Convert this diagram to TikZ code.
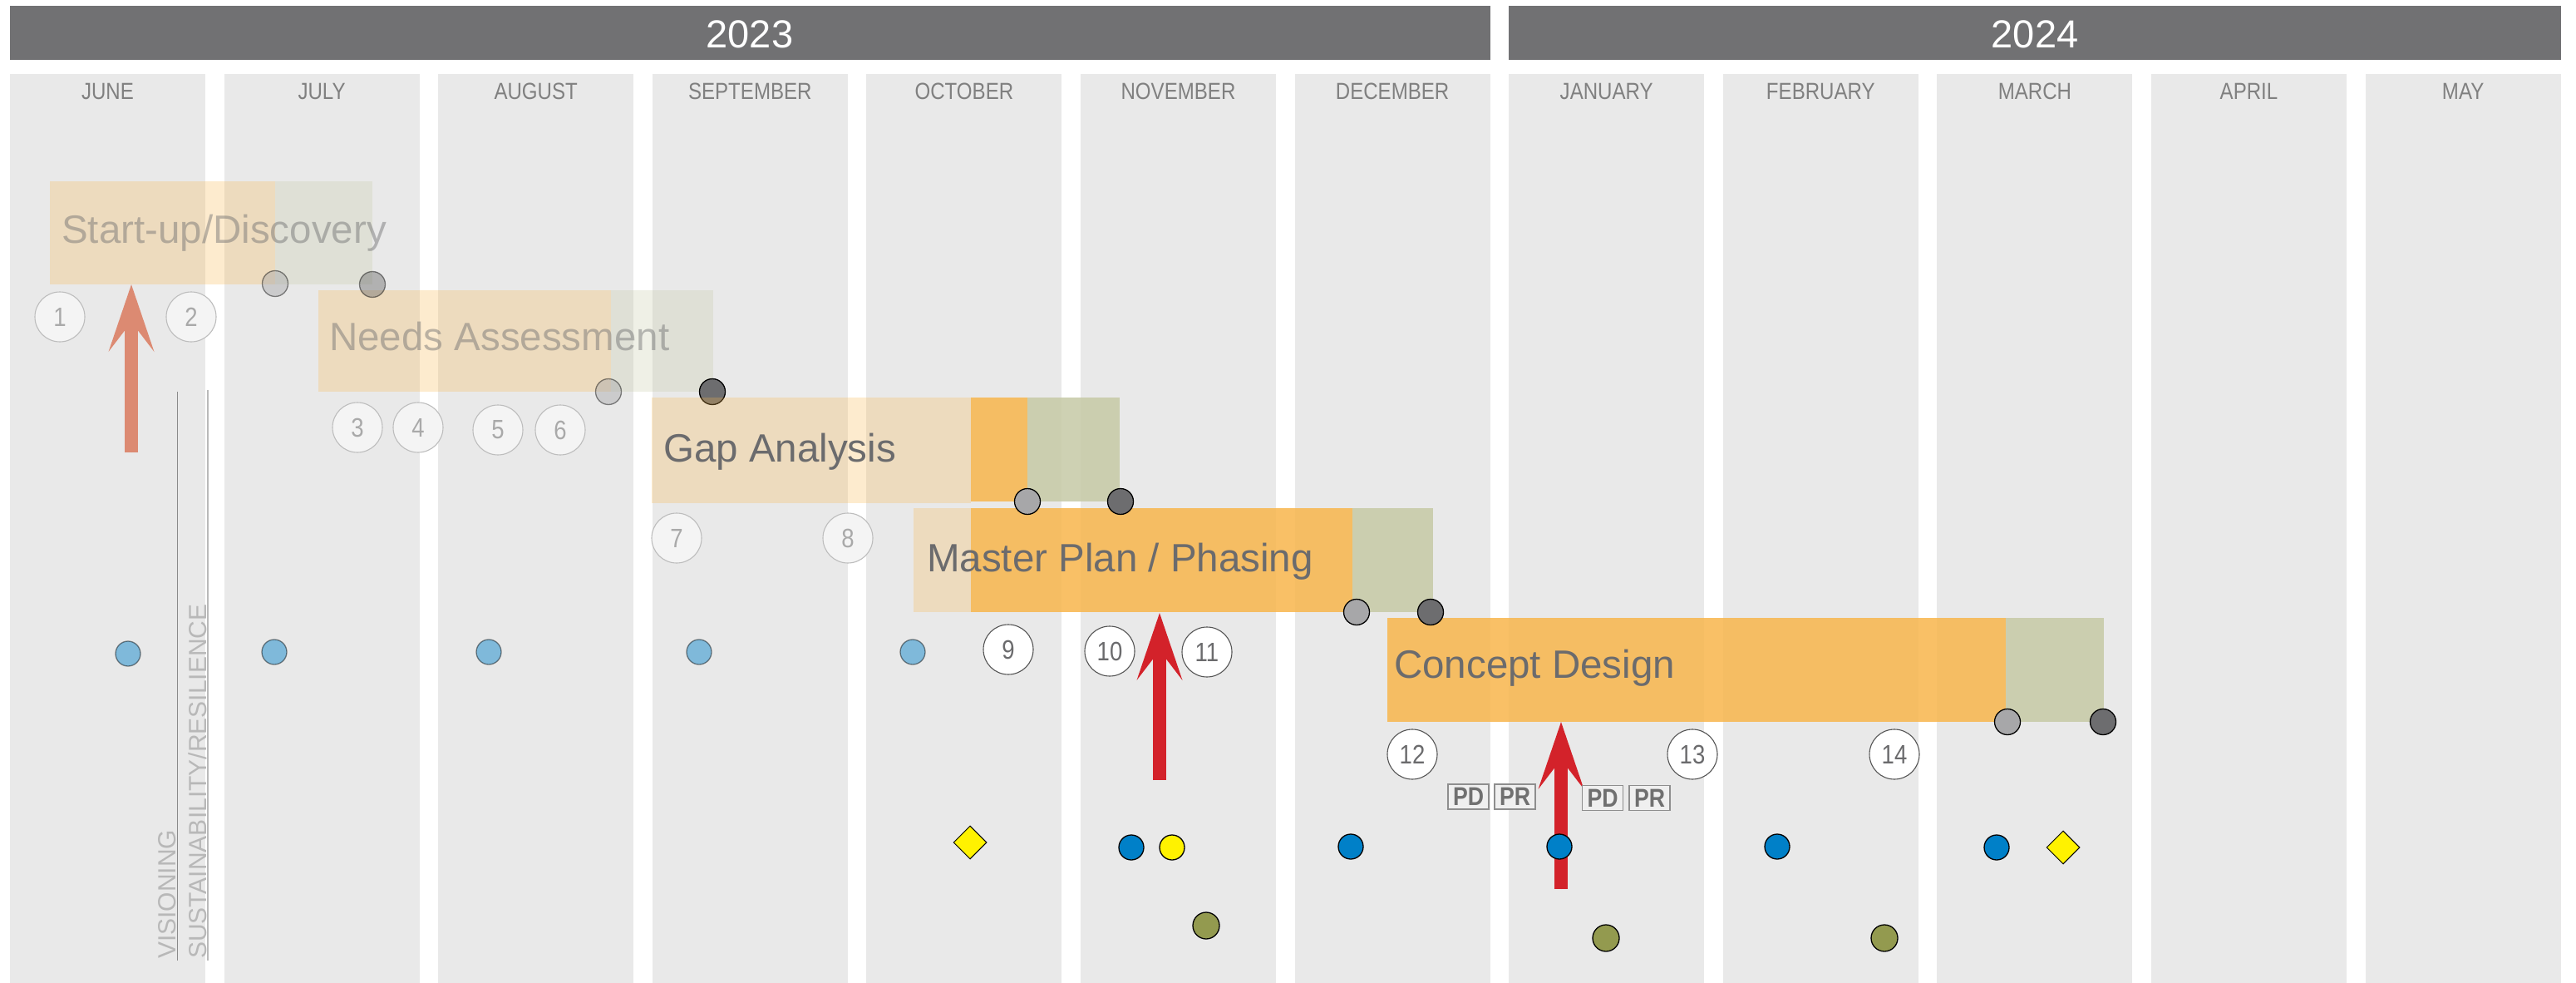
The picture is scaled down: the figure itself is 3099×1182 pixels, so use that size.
\documentclass[tikz,border=0pt]{standalone}
\usepackage{fontspec}
\setmainfont{Liberation Sans}
\newfontfamily\condf[FakeStretch=0.86]{Liberation Sans}
\usetikzlibrary{arrows.meta,shapes.geometric}
\definecolor{colbg}{HTML}{E9E9E9}
\definecolor{yearbg}{HTML}{717173}
\definecolor{monthtxt}{HTML}{808080}
\definecolor{barorange}{RGB}{248,182,76}
\definecolor{bargreen}{RGB}{198,202,166}
\definecolor{labeltxt}{HTML}{6B6B6D}
\definecolor{dotlight}{HTML}{A7A7A9}
\definecolor{dotdark}{HTML}{6D6D6F}
\definecolor{dotblue}{HTML}{0080C8}
\definecolor{dotyellow}{HTML}{FFF200}
\definecolor{dotolive}{HTML}{939A4F}
\definecolor{arrowred}{HTML}{D3222A}
\definecolor{arrowsalmon}{HTML}{DC8A72}
\definecolor{numborder}{HTML}{555555}
\definecolor{numfadedborder}{HTML}{BDBDBD}
\definecolor{numfadedfill}{HTML}{F4F4F4}
\definecolor{numfadedtxt}{HTML}{A9A9A9}
\definecolor{taggray}{HTML}{8E8E8E}
\definecolor{tagfill}{HTML}{EFEFEF}
\definecolor{tagtxt}{HTML}{707070}
\definecolor{vtxt}{HTML}{B8B8B8}
\definecolor{vlinegray}{HTML}{8A8A8A}
\begin{document}
\begin{tikzpicture}[x=1pt,y=-1pt,
  column/.style={fill=colbg},
  yearbar/.style={fill=yearbg},
  yeartxt/.style={anchor=base,inner sep=0,text=white,font=\fontsize{47}{50}\selectfont},
  month/.style={anchor=base,inner sep=0,text=monthtxt,font=\condf\fontsize{28}{30}\selectfont},
  orangebar/.style={fill=barorange,fill opacity=0.85},
  greenbar/.style={fill=bargreen,fill opacity=0.85},
  orangefaded/.style={fill=barorange,fill opacity=0.27},
  greenfaded/.style={fill=bargreen,fill opacity=0.27},
  phase/.style={anchor=base west,inner sep=0,text=labeltxt,font=\fontsize{47.5}{50}\selectfont},
  phasefaded/.style={phase,text opacity=0.45},
  num/.style={circle,minimum size=60pt,inner sep=0,draw=numborder,line width=1.1pt,fill=white,text=labeltxt,font=\condf\fontsize{32}{32}\selectfont},
  numfaded/.style={num,draw=numfadedborder,fill=numfadedfill,text=numfadedtxt},
  dot/.style={circle,minimum size=31pt,inner sep=0,draw=black,line width=1.3pt},
  greydot/.style={dot,fill=dotlight},
  darkdot/.style={dot,fill=dotdark},
  bluedot/.style={dot,fill=dotblue,minimum size=30pt},
  yellowdot/.style={dot,fill=dotyellow,minimum size=30pt},
  olivedot/.style={dot,fill=dotolive,minimum size=32pt},
  faded/.style={opacity=0.45},
  diamondmark/.style={diamond,aspect=1,minimum size=40pt,inner sep=0,draw=black,line width=1pt,fill=dotyellow},
  tagbox/.style={draw=taggray,line width=1.5pt,fill=tagfill,minimum width=49pt,minimum height=30pt,inner sep=0,text=tagtxt,font=\condf\bfseries\fontsize{31}{31}\selectfont},
  bigarrow/.style={line width=16pt,-{Stealth[length=80pt,width=54pt,inset=35pt]}},
  vline/.style={draw=vlinegray,line width=1.2pt},
  vtext/.style={rotate=90,anchor=base west,inner sep=0,text=vtxt,font=\fontsize{30}{30}\selectfont}
]
\useasboundingbox (0,0) rectangle (3099,1182);
\fill[white] (0,0) rectangle (3099,1182);

% month columns
\foreach \m [count=\i from 0] in {JUNE,JULY,AUGUST,SEPTEMBER,OCTOBER,NOVEMBER,DECEMBER,JANUARY,FEBRUARY,MARCH,APRIL,MAY}{
  \fill[column] ({12+257.6*\i},89) rectangle ({247+257.6*\i},1182);
  \node[month] (m\i) at ({129.5+257.6*\i},120) {\m};
}

% year bars
\fill[yearbar] (12,7) rectangle (1793,72);
\fill[yearbar] (1815,7) rectangle (3081,72);
\node[yeartxt] (y2023) at (902,58) {2023};
\node[yeartxt] (y2024) at (2448,58) {2024};

% vertical theme lines and labels
\coordinate (vl1t) at (213.5,471); \coordinate (vl1b) at (213.5,1155);
\coordinate (vl2t) at (250,469);   \coordinate (vl2b) at (250,1155);
\draw[vline] (vl1t) -- (vl1b);
\draw[vline,draw=vlinegray!60] (vl2t) -- (vl2b);
\node[vtext] (visioning) at (211,1153) {VISIONING};
\node[vtext] (sustain) at (248,1153) {SUSTAINABILITY/RESILIENCE};

% phase bars
\fill[orangefaded] (60,218) rectangle (331,342);
\fill[greenfaded] (331,218) rectangle (448,342);
\fill[orangefaded] (383,349) rectangle (735,471);
\fill[greenfaded] (735,349) rectangle (858,471);
\node[darkdot] (d4) at (857,471) {};
\fill[orangefaded] (784,478) rectangle (1168,605);
\fill[orangebar] (1168,478) rectangle (1236,603);
\fill[greenbar] (1236,478) rectangle (1347,603);
\fill[orangefaded] (1099,611) rectangle (1168,736);
\fill[orangebar] (1168,611) rectangle (1627,736);
\fill[greenbar] (1627,611) rectangle (1724,736);
\fill[orangebar] (1669,743) rectangle (2413,868);
\fill[greenbar] (2413,743) rectangle (2531,868);

% phase labels
\node[phasefaded] (p1) at (74,292) {Start-up/Discovery};
\node[phasefaded] (p2) at (396,421) {Needs Assessment};
\node[phase] (p3) at (798,555) {Gap Analysis};
\node[phase] (p4) at (1115,687) {Master Plan / Phasing};
\node[phase] (p5) at (1677,815) {Concept Design};

% arrows
\coordinate (a1b) at (158,544); \coordinate (a1t) at (158,342);
\coordinate (a2b) at (1395,938); \coordinate (a2t) at (1395,737);
\coordinate (a3b) at (1878,1069); \coordinate (a3t) at (1878,868);
\draw[bigarrow,draw=arrowsalmon,fill=arrowsalmon] (a1b) -- (a1t);
\draw[bigarrow,draw=arrowred,fill=arrowred] (a2b) -- (a2t);
\draw[bigarrow,draw=arrowred,fill=arrowred] (a3b) -- (a3t);

% phase end dots
\node[greydot,faded] (d1) at (331,341) {};
\node[darkdot,faded] (d2) at (448,342) {};
\node[greydot,faded] (d3) at (732,471) {};
\node[greydot] (d5) at (1236,603) {};
\node[darkdot] (d6) at (1348,603) {};
\node[greydot] (d7) at (1632,736) {};
\node[darkdot] (d8) at (1721,736) {};
\node[greydot] (d9) at (2415,868) {};
\node[darkdot] (d10) at (2530,868) {};

% faded blue row
\node[bluedot,faded] (b1) at (154,786) {};
\node[bluedot,faded] (b2) at (330,784) {};
\node[bluedot,faded] (b3) at (588,784) {};
\node[bluedot,faded] (b4) at (841,784) {};
\node[bluedot,faded] (b5) at (1098,784) {};

% numbered circles
\node[numfaded] (n1) at (72,381) {1};
\node[numfaded] (n2) at (230,381) {2};
\node[numfaded] (n3) at (430,514) {3};
\node[numfaded] (n4) at (503,514) {4};
\node[numfaded] (n5) at (599,517) {5};
\node[numfaded] (n6) at (674,517) {6};
\node[numfaded] (n7) at (814,647) {7};
\node[numfaded] (n8) at (1020,647) {8};
\node[num] (n9) at (1213,781) {9};
\node[num] (n10) at (1335,783) {10};
\node[num] (n11) at (1452,784) {11};
\node[num] (n12) at (1699,907) {12};
\node[num] (n13) at (2036,907) {13};
\node[num] (n14) at (2279,907) {14};

% tags
\node[tagbox] (pd1) at (1766.5,958) {PD};
\node[tagbox] (pr1) at (1822.5,958) {PR};
\node[tagbox] (pd2) at (1928,959.5) {PD};
\node[tagbox] (pr2) at (1984.5,959.5) {PR};

% lower markers
\node[diamondmark] (k1) at (1167,1013) {};
\node[diamondmark] (k2) at (2482,1019) {};
\node[bluedot] (c1) at (1361,1019) {};
\node[yellowdot] (c2) at (1410,1019) {};
\node[bluedot] (c3) at (1625,1018) {};
\node[bluedot] (c4) at (1876,1018) {};
\node[bluedot] (c5) at (2138,1018) {};
\node[bluedot] (c6) at (2402,1019) {};
\node[olivedot] (o1) at (1451,1113) {};
\node[olivedot] (o2) at (1932,1128) {};
\node[olivedot] (o3) at (2267,1128) {};
\end{tikzpicture}
\end{document}
